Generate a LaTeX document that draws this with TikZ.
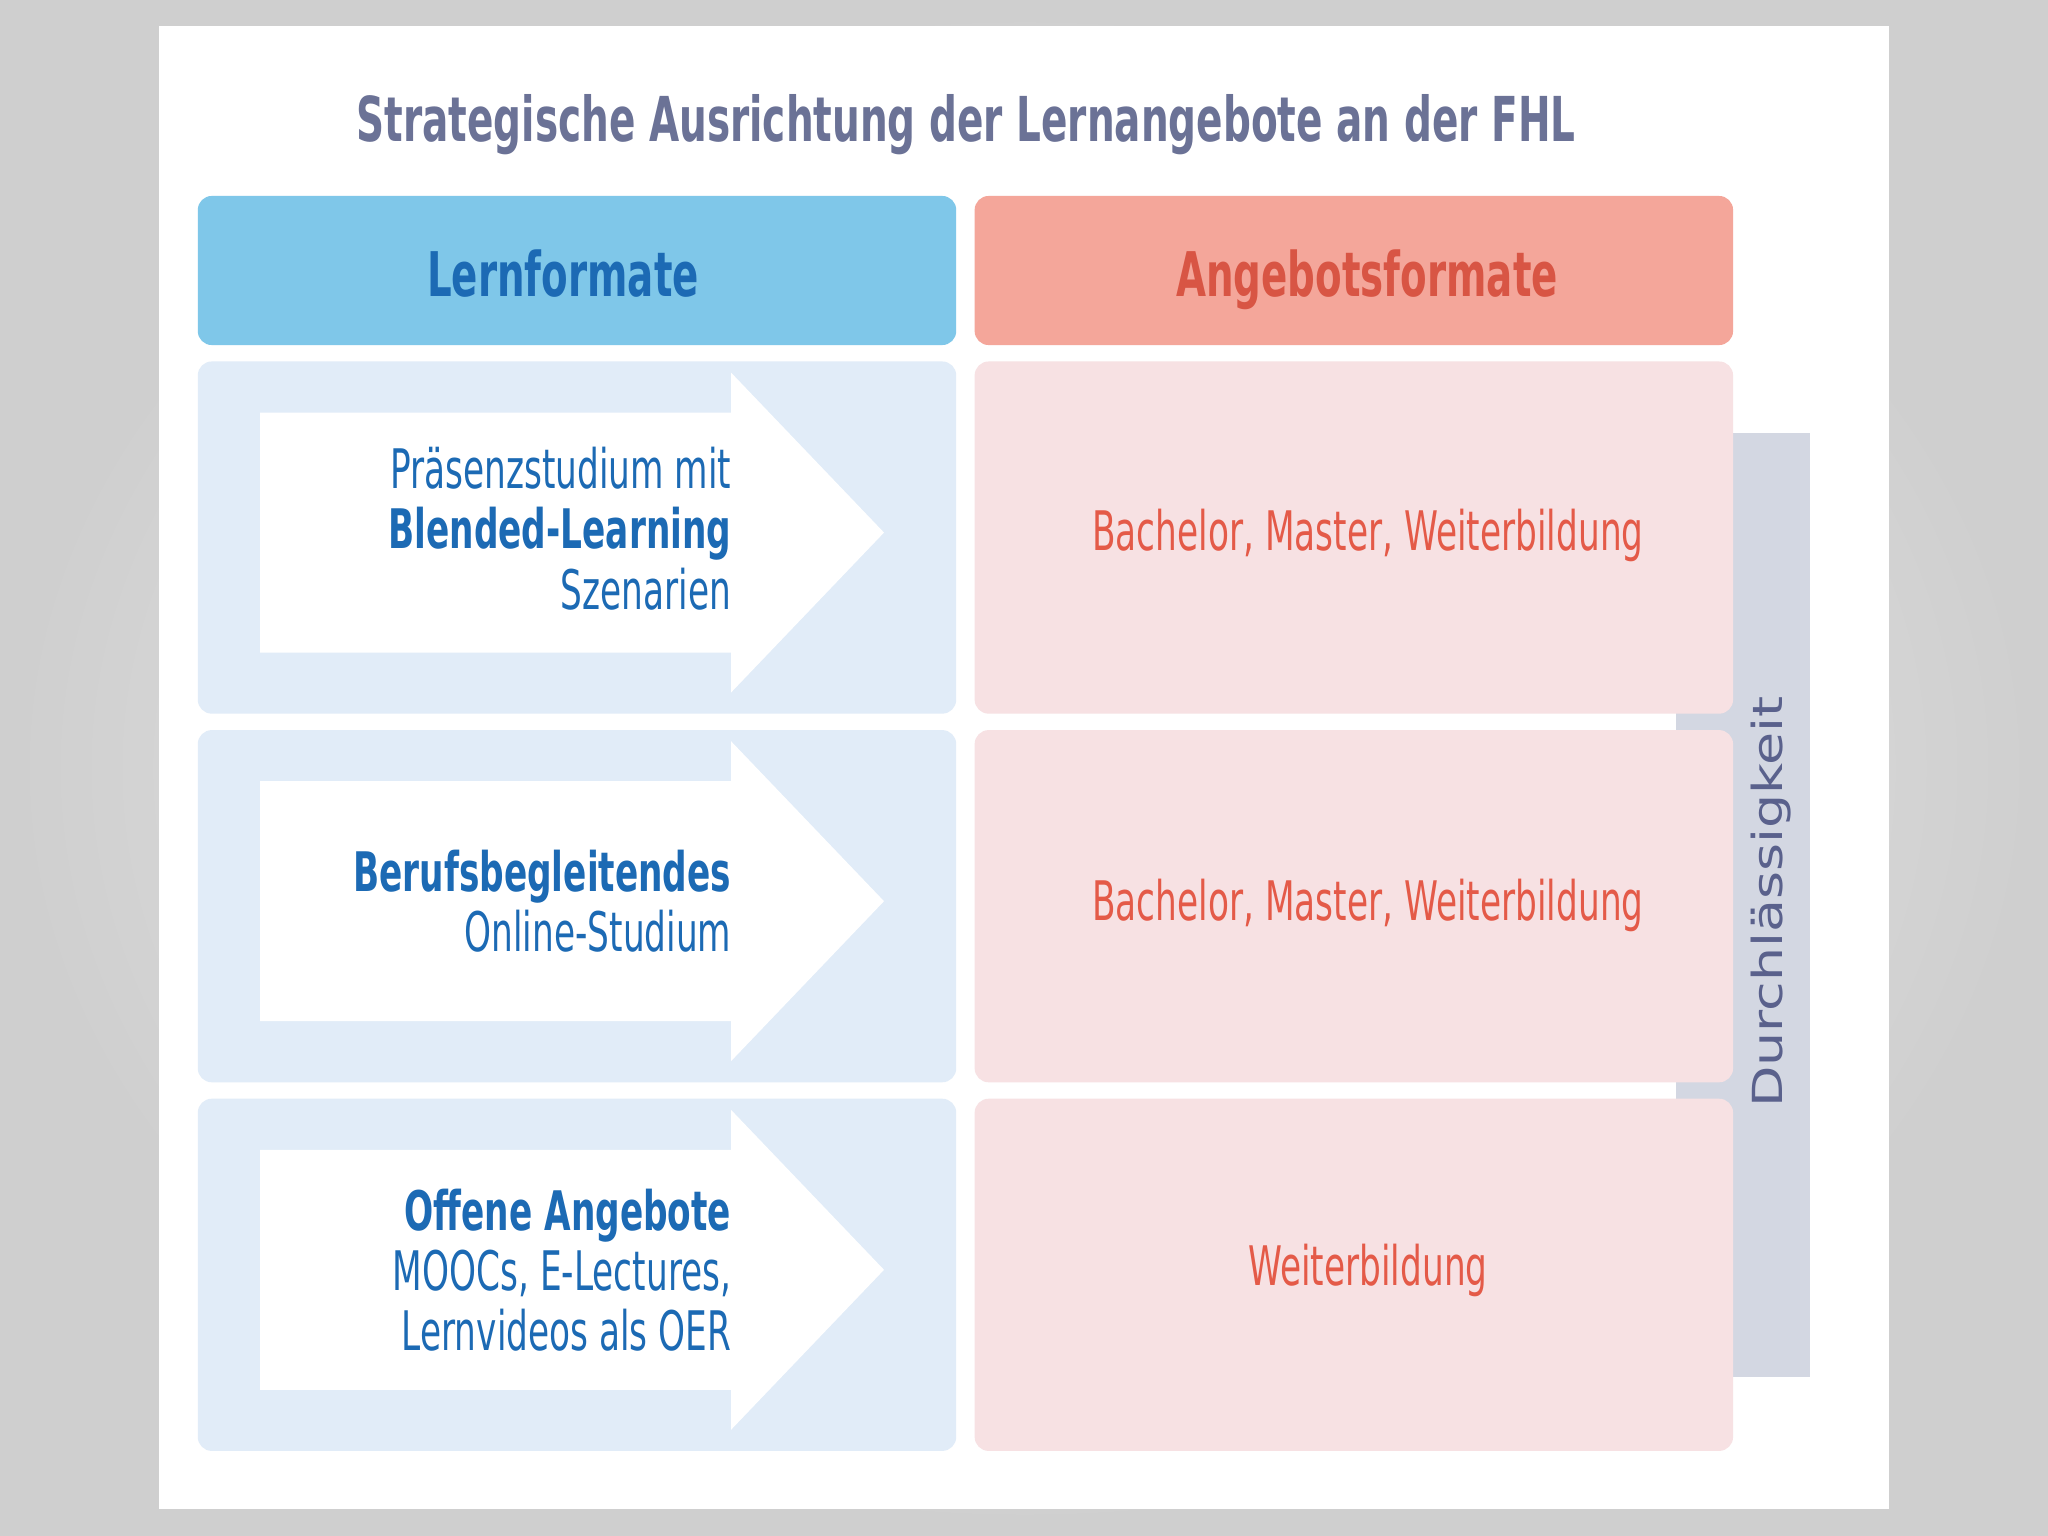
\documentclass[tikz,border=0pt]{standalone}
\usepackage{fontspec}
\setmainfont{DejaVu Sans}[FakeStretch=0.63]
\newfontfamily\sidefont{DejaVu Sans}
\usepackage{tikz}
\usetikzlibrary{positioning, calc}
\definecolor{headblue}{HTML}{7FC7E9}
\definecolor{headsalmon}{HTML}{F4A69A}
\definecolor{lcellblue}{HTML}{E1ECF8}
\definecolor{rcellpink}{HTML}{F7E1E3}
\definecolor{fhlblue}{HTML}{1C6AB4}
\definecolor{fhlred}{HTML}{E45A48}
\definecolor{titleslate}{HTML}{6B7296}
\definecolor{barshade}{HTML}{D3D7E2}
\definecolor{sideslate}{HTML}{5A618C}

\begin{document}
\begin{tikzpicture}[x=0.01cm, y=-0.01cm, node distance=0.15cm,
    headbox/.style={rectangle, rounded corners=0.14cm, minimum width=7.58cm, minimum height=1.49cm, inner sep=0},
    headtext/.style={anchor=base, inner sep=0, font=\fontsize{17.5}{21}\selectfont\bfseries},
    lcell/.style={rectangle, fill=lcellblue, rounded corners=0.14cm, minimum width=7.58cm, minimum height=3.52cm, inner sep=0},
    rcell/.style={rectangle, fill=rcellpink, rounded corners=0.14cm, minimum width=7.58cm, minimum height=3.52cm, inner sep=0},
    lefttext/.style={align=right, anchor=east, inner sep=0, text=fhlblue, font=\fontsize{15.5}{17.1}\selectfont},
    righttext/.style={inner sep=0, text=fhlred, font=\fontsize{15.5}{17.1}\selectfont},
    flow/.style={fill=white}]

    \useasboundingbox (0,0) rectangle (2048,1536);
    \shade[inner color=black!6, outer color=black!19] (0,0) rectangle (2048,1536);
    \fill[white] (159,26) rectangle (1889,1509);

    \node[anchor=base, inner sep=0, text=titleslate, font=\fontsize{17.6}{21}\selectfont\bfseries] (title) at (966,141)
        {Strategische Ausrichtung der Lernangebote an der FHL};

    % Durchlaessigkeit band (behind the right column)
    \fill[barshade] (1676,433) rectangle (1810,1377);
    \node[rotate=90, inner sep=0, text=sideslate, font=\sidefont\fontsize{15.3}{18}\selectfont] (durch) at (1771,902)
        {\scalebox{1}[0.77]{Durchlässigkeit}};

    \node[headbox, fill=headblue] (lhead) at (577,270.5) {};
    \node[headbox, fill=headsalmon, right=0.17cm of lhead] (rhead) {};
    \node[headtext, text=fhlblue] (lheadtxt) at (563,296) {Lernformate};
    \node[headtext, text=fhlred!95!black] (rheadtxt) at (1367,296) {Angebotsformate};

    \node[lcell, below=of lhead] (lrow1) {};
    \node[lcell, below=of lrow1] (lrow2) {};
    \node[lcell, below=of lrow2] (lrow3) {};
    \node[rcell, below=of rhead] (rrow1) {};
    \node[rcell, below=of rrow1] (rrow2) {};
    \node[rcell, below=of rrow2] (rrow3) {};

    % white arrows
    \fill[flow] ($(lrow1)+(-317,-125)$) -- ($(lrow1)+(154,-125)$) -- ($(lrow1)+(154,-165)$) -- ($(lrow1)+(307,-5)$)
        -- ($(lrow1)+(154,155)$) -- ($(lrow1)+(154,115)$) -- ($(lrow1)+(-317,115)$) -- cycle;
    \fill[flow] ($(lrow2)+(-317,-125)$) -- ($(lrow2)+(154,-125)$) -- ($(lrow2)+(154,-165)$) -- ($(lrow2)+(307,-5)$)
        -- ($(lrow2)+(154,155)$) -- ($(lrow2)+(154,115)$) -- ($(lrow2)+(-317,115)$) -- cycle;
    \fill[flow] ($(lrow3)+(-317,-125)$) -- ($(lrow3)+(154,-125)$) -- ($(lrow3)+(154,-165)$) -- ($(lrow3)+(307,-5)$)
        -- ($(lrow3)+(154,155)$) -- ($(lrow3)+(154,115)$) -- ($(lrow3)+(-317,115)$) -- cycle;

    \node[lefttext] (ltext1) at ($(lrow1)+(155,-9)$) {Präsenzstudium mit\\\textbf{Blended-Learning}\\Szenarien};
    \node[lefttext] (ltext2) at ($(lrow2)+(155,-5)$) {\textbf{Berufsbegleitendes}\\Online-Studium};
    \node[lefttext] (ltext3) at ($(lrow3)+(155,-5)$) {\textbf{Offene Angebote}\\MOOCs, E-Lectures,\\Lernvideos als OER};

    \node[righttext] (rtext1) at ($(rrow1)+(14,-2)$) {Bachelor, Master, Weiterbildung};
    \node[righttext] (rtext2) at ($(rrow2)+(14,-1)$) {Bachelor, Master, Weiterbildung};
    \node[righttext] (rtext3) at ($(rrow3)+(14,-4)$) {Weiterbildung};

\end{tikzpicture}
\end{document}
